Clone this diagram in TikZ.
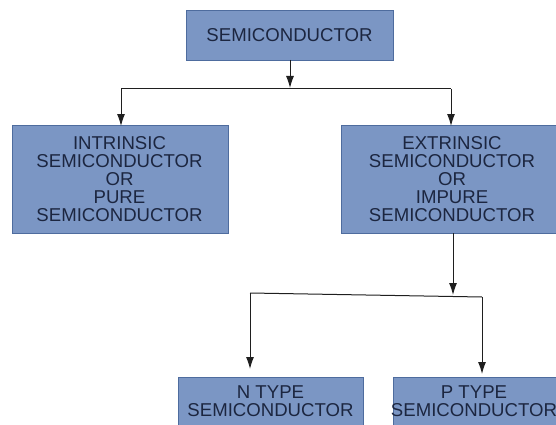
\documentclass[tikz,border=0pt]{standalone}
\usepackage{fontspec}
\setmainfont{Liberation Sans}
\usetikzlibrary{arrows.meta}
\definecolor{boxfill}{HTML}{7B96C4}
\definecolor{boxline}{HTML}{4E6C9E}
\definecolor{txt}{HTML}{1C2640}
\begin{document}
\begin{tikzpicture}[x=1pt,y=-1pt,
  box/.style={draw=boxline,fill=boxfill,line width=0.8pt},
  lbl/.style={align=center,text=txt,font=\fontsize{18.6}{18.2}\selectfont,inner sep=0pt},
  conn/.style={draw=black!88,line width=1pt},
  arr/.style={conn,-{Latex[length=12pt,width=8pt]}}]
\useasboundingbox (0,0) rectangle (556,425);
\begin{scope}
\clip (0,0) rectangle (556,425);
% boxes
\draw[box] (186,10) rectangle (393,60);
\node[lbl] (top) at (289.5,35.5) {SEMICONDUCTOR};
\coordinate (topS) at (290,60);

\draw[box] (12,125) rectangle (228,233);
\node[lbl] (left) at (119.5,179) {INTRINSIC\\SEMICONDUCTOR\\OR\\PURE\\SEMICONDUCTOR};
\coordinate (leftN) at (121,125);

\draw[box] (341,125) rectangle (560,233);
\node[lbl] (right) at (452,179) {EXTRINSIC\\SEMICONDUCTOR\\OR\\IMPURE\\SEMICONDUCTOR};
\coordinate (rightN) at (451,125);
\coordinate (rightS) at (453,233);

\draw[box] (178,377) rectangle (363,430);
\node[lbl] (ntype) at (270.5,401.5) {N TYPE\\SEMICONDUCTOR};
\coordinate (nN) at (250,377);

\draw[box] (393,377) rectangle (562,430);
\node[lbl] (ptype) at (474,401.5) {P TYPE\\SEMICONDUCTOR};
\coordinate (pN) at (482,377);

% connectors
\coordinate (j1) at (290,89);
\coordinate (jl) at (121,89);
\coordinate (jr) at (451,89);
\draw[arr] (topS) -- (290,88);
\draw[conn] (jl) -- (jr);
\draw[arr] (jl) -- ([yshift=-1pt]leftN);
\draw[arr] (jr) -- ([yshift=-1pt]rightN);

\coordinate (kl) at (250,293);
\coordinate (kr) at (482,297);
\draw[arr] (rightS) -- (453,295);
\draw[conn] (kl) -- (kr);
\draw[arr] (kl) -- (250,369);
\draw[arr] (kr) -- (482,374);
\end{scope}
\end{tikzpicture}
\end{document}
